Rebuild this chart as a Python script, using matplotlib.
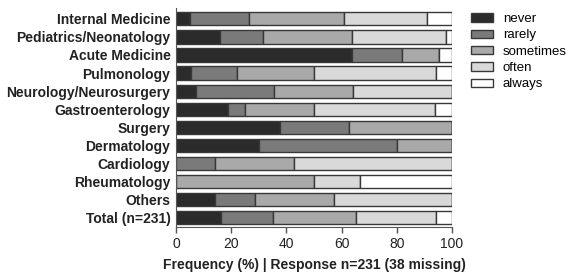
import matplotlib

matplotlib.use("Agg")
import matplotlib.pyplot as plt
import numpy as np

plt.rcParams["font.family"] = ["Liberation Sans", "DejaVu Sans"]

categories = [
    "Internal Medicine",
    "Pediatrics/Neonatology",
    "Acute Medicine",
    "Pulmonology",
    "Neurology/Neurosurgery",
    "Gastroenterology",
    "Surgery",
    "Dermatology",
    "Cardiology",
    "Rheumatology",
    "Others",
    "Total (n=231)",
]
levels = ["never", "rarely", "sometimes", "often", "always"]

never = [5.0, 16.0, 63.6, 5.4, 7.1, 18.8, 37.5, 30.0, 0.0, 0.0, 14.3, 16.2]
rarely = [21.3, 15.7, 18.2, 16.6, 28.5, 6.1, 25.0, 50.0, 14.3, 0.0, 14.3, 19.1]
sometimes = [34.4, 31.9, 13.5, 27.9, 28.7, 25.0, 37.5, 20.0, 28.6, 50.0, 28.6, 30.0]
often = [30.2, 34.1, 0.0, 44.4, 35.7, 43.9, 0.0, 0.0, 57.1, 16.7, 42.8, 28.8]
always = [9.1, 2.3, 4.7, 5.7, 0.0, 6.2, 0.0, 0.0, 0.0, 33.3, 0.0, 5.9]

colors = ["#2b2b2b", "#7a7a7a", "#a9a9a9", "#d9d9d9", "#ffffff"]

fig = plt.figure(figsize=(5.68, 2.73), dpi=100)
ax = fig.add_axes([176 / 568, 1 - 227 / 273, 276 / 568, 219 / 273])

y = np.arange(len(categories))
left = np.zeros(len(categories))
for name, vals, col in zip(levels, [never, rarely, sometimes, often, always], colors):
    vals = np.array(vals)
    ax.barh(y, vals, left=left, height=0.73, color=col, edgecolor="#383838",
            linewidth=1.0, label=name)
    left += vals

ax.set_xlim(0, 100)
ax.set_ylim(11.52, -0.6)
ax.set_xticks([0, 20, 40, 60, 80, 100])
ax.set_yticks(y)
ax.set_yticklabels(categories, fontsize=10, fontweight="bold", color="#222222")
ax.tick_params(axis="y", length=0, pad=4)
ax.tick_params(axis="x", length=4, width=1, color="#555555", labelsize=10,
               labelcolor="#222222", pad=3)
for side in ["top", "right"]:
    ax.spines[side].set_visible(False)
ax.spines["bottom"].set_color("#555555")
ax.spines["left"].set_color("#555555")
ax.set_xlabel("Frequency (%) | Response n=231 (38 missing)", fontsize=10,
              fontweight="bold", color="#222222", labelpad=5)

ax.legend(loc="upper left", bbox_to_anchor=(471 / 568, 1 - 13 / 273),
          bbox_transform=fig.transFigure, frameon=False, fontsize=9.5,
          handlelength=1.65, handleheight=0.6, handletextpad=0.75,
          labelspacing=0.33, borderaxespad=0, borderpad=0)

fig.savefig("out.png", dpi=100)
